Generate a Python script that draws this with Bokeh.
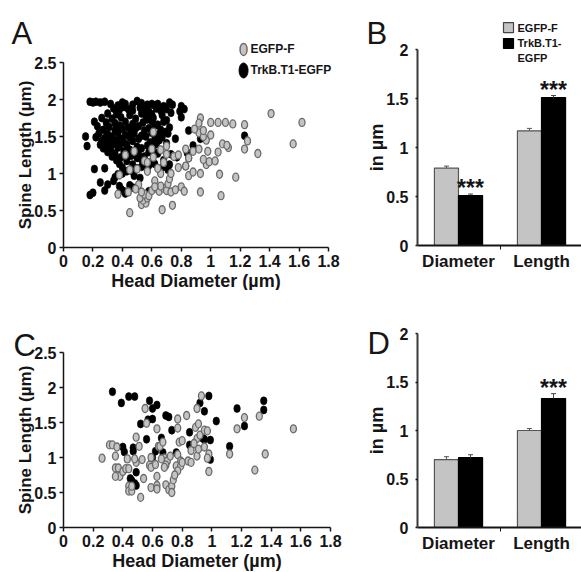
import numpy as np
from bokeh.plotting import figure
from bokeh.models import Range1d, FixedTicker, Label, Whisker, TeeHead, ColumnDataSource
from bokeh.layouts import column, row
from bokeh.embed import file_html
from bokeh.resources import INLINE
from bokeh.core.properties import value

# ---------------- data ----------------
x_ticks = [0, 0.2, 0.4, 0.6, 0.8, 1.0, 1.2, 1.4, 1.6, 1.8]
x_tick_labels = ["0", "0.2", "0.4", "0.6", "0.8", "1", "1.2", "1.4", "1.6", "1.8"]
y_ticks_scatter = [0, 0.5, 1.0, 1.5, 2.0, 2.5]
y_tick_labels_scatter = ["0", "0.5", "1", "1.5", "2", "2.5"]
y_ticks_bar = [0, 0.5, 1.0, 1.5, 2.0]
y_tick_labels_bar = ["0", "0.5", "1", "1.5", "2"]

series_names = ["EGFP-F", "TrkB.T1-EGFP"]
categories = ["Diameter", "Length"]

# Panel A : TrkB.T1-EGFP (black)
A_trkb_x = [0.18, 0.20, 0.22, 0.25, 0.28, 0.32, 0.37, 0.40, 0.42, 0.47, 0.50, 0.53, 0.57, 0.60, 0.62, 0.64, 0.68, 0.72, 0.74, 0.80,
            0.34, 0.38, 0.41, 0.44, 0.47, 0.52, 0.55, 0.58, 0.63, 0.66, 0.70, 0.79, 0.82,
            0.30, 0.36, 0.45, 0.53, 0.56, 0.60, 0.67, 0.73,
            0.26, 0.33, 0.39, 0.49, 0.57, 0.61, 0.70, 0.80,
            0.21, 0.29, 0.35, 0.42, 0.47, 0.54, 0.60, 0.64, 0.68,
            0.23, 0.31, 0.38, 0.44, 0.51, 0.58, 0.62, 0.72,
            0.27, 0.35, 0.40, 0.46, 0.49, 0.55, 0.66, 0.69,
            0.24, 0.30, 0.37, 0.42, 0.48, 0.53, 0.60, 0.64, 0.71, 0.85,
            0.15, 0.22, 0.28, 0.33, 0.39, 0.45, 0.51, 0.56, 0.62, 0.67, 0.76, 0.93, 1.23,
            0.26, 0.31, 0.36, 0.41, 0.47, 0.59, 0.65, 0.70,
            0.25, 0.29, 0.34, 0.38, 0.43, 0.50, 0.57, 0.63, 0.88,
            0.16, 0.27, 0.32, 0.37, 0.45, 0.53, 0.61,
            0.30, 0.35, 0.41, 0.48, 0.51, 0.58, 0.64, 0.73, 0.84,
            0.33, 0.39, 0.46, 0.50, 0.55, 0.77,
            0.36, 0.43, 0.53, 0.60, 0.68, 0.85,
            0.38, 0.47, 0.55, 0.58, 0.62, 0.72,
            0.40, 0.50, 0.53, 0.57, 0.67, 0.83,
            0.21, 0.28, 0.43, 0.46, 0.71,
            0.37, 0.40, 0.48,
            0.35, 0.52,
            0.25, 0.34,
            0.30, 0.38, 0.45,
            0.39, 0.47,
            0.20, 0.28, 0.41, 0.58,
            0.18, 0.42]
A_trkb_y = [1.97, 1.96, 1.97, 1.96, 1.97, 1.94, 1.92, 1.96, 1.94, 1.93, 1.98, 1.95, 1.93, 1.94, 1.92, 1.94, 1.91, 1.96, 1.93, 1.91,
            1.88, 1.86, 1.90, 1.87, 1.85, 1.89, 1.86, 1.84, 1.88, 1.85, 1.87, 1.84, 1.87,
            1.81, 1.80, 1.79, 1.81, 1.78, 1.80, 1.79, 1.82,
            1.75, 1.74, 1.76, 1.74, 1.73, 1.75, 1.72, 1.76,
            1.70, 1.69, 1.68, 1.70, 1.67, 1.69, 1.71, 1.66, 1.70,
            1.64, 1.63, 1.65, 1.62, 1.64, 1.61, 1.65, 1.62,
            1.59, 1.58, 1.60, 1.57, 1.61, 1.58, 1.59, 1.56,
            1.54, 1.53, 1.55, 1.52, 1.54, 1.51, 1.55, 1.52, 1.54, 1.58,
            1.50, 1.49, 1.48, 1.50, 1.47, 1.49, 1.47, 1.50, 1.46, 1.49, 1.47, 1.47, 1.51,
            1.44, 1.43, 1.45, 1.42, 1.44, 1.42, 1.45, 1.41,
            1.39, 1.38, 1.40, 1.37, 1.39, 1.36, 1.38, 1.40, 1.38,
            1.37, 1.34, 1.33, 1.35, 1.32, 1.34, 1.31,
            1.29, 1.27, 1.30, 1.28, 1.26, 1.29, 1.27, 1.26, 1.28,
            1.23, 1.22, 1.24, 1.21, 1.23, 1.22,
            1.18, 1.17, 1.19, 1.16, 1.18, 1.21,
            1.13, 1.12, 1.14, 1.11, 1.13, 1.12,
            1.08, 1.07, 1.09, 1.06, 1.08, 1.10,
            1.06, 1.07, 1.03, 1.04, 1.05,
            0.99, 1.00, 0.97,
            0.95, 0.94,
            0.88, 0.90,
            0.85, 0.83, 0.84,
            0.79, 0.81,
            0.74, 0.77, 0.76, 0.76,
            0.71, 0.73]

# Panel A : EGFP-F (gray)
A_egfp_x = [0.45, 0.67, 0.74,
            0.53, 0.56, 0.54, 0.57, 0.52, 0.55, 0.53, 0.58,
            0.37, 0.44, 0.60, 0.63, 0.65, 0.68, 0.70, 0.73, 0.71, 0.66, 0.80, 0.82, 0.93, 1.07,
            0.51, 0.62, 0.72, 0.85, 0.88, 0.93, 1.06, 1.17, 0.66, 0.73, 0.57, 0.50, 0.64,
            0.78, 0.83, 0.97, 0.99, 1.03, 0.95, 0.85, 0.75, 0.70, 0.61, 0.68, 0.55,
            0.88, 0.92, 0.98, 1.05, 1.12, 1.23, 1.32, 1.08, 1.11, 1.25, 1.56, 0.97, 1.00, 0.92, 0.95,
            0.66, 0.60, 0.70, 0.78, 0.83, 0.61,
            0.93, 0.92, 1.00, 1.05, 1.10, 1.15, 1.23, 1.41, 1.62, 0.89, 0.95,
            0.48, 0.42, 0.45, 0.38, 0.57, 0.62, 0.76, 0.49]
A_egfp_y = [0.47, 0.51, 0.57,
            0.58, 0.60, 0.64, 0.67, 0.67, 0.72, 0.75, 0.70,
            0.72, 0.75, 0.77, 0.80, 0.76, 0.80, 0.77, 0.75, 0.86, 0.83, 0.82, 0.76, 0.75, 0.70,
            0.85, 0.90, 0.93, 0.97, 1.02, 1.00, 0.99, 0.95, 1.00, 1.00, 1.03, 1.06, 1.07,
            1.08, 1.10, 1.12, 1.16, 1.17, 1.19, 1.21, 1.23, 1.26, 1.22, 1.15, 1.17,
            1.30, 1.33, 1.30, 1.29, 1.35, 1.33, 1.27, 1.40, 1.38, 1.44, 1.40, 1.45, 1.52, 1.55, 1.50,
            1.32, 1.33, 1.37, 1.25, 1.33, 1.56,
            1.75, 1.68, 1.69, 1.69, 1.69, 1.67, 1.66, 1.81, 1.69, 1.60, 1.58,
            1.30, 1.25, 1.05, 0.98, 1.15, 0.82, 0.78, 0.79]

# Panel C : EGFP-F (gray)
C_egfp_x = [0.26, 0.31, 0.33, 0.35, 0.36,
            0.35, 0.37, 0.36, 0.38, 0.35, 0.40,
            0.42, 0.44, 0.43, 0.44, 0.44, 0.46, 0.46,
            0.49, 0.49, 0.48, 0.52, 0.54, 0.53, 0.51,
            0.55, 0.59, 0.58, 0.59, 0.59, 0.56,
            0.63, 0.63, 0.63, 0.63, 0.64, 0.65, 0.67,
            0.68, 0.70, 0.69, 0.68, 0.69, 0.71, 0.73, 0.74, 0.73, 0.72, 0.66, 0.62,
            0.77, 0.77, 0.78, 0.80, 0.77, 0.79, 0.76, 0.79, 0.77, 0.75, 0.80,
            0.83, 0.84, 0.86, 0.86, 0.89, 0.90, 0.92, 0.90, 0.91, 0.88,
            0.93, 0.95, 0.97, 0.95, 0.98, 0.98, 0.97, 0.90, 0.91,
            1.12, 1.17, 1.22, 1.29, 1.32, 1.36, 1.55]
C_egfp_y = [0.99, 1.18, 1.18, 1.02, 1.15,
            0.85, 0.85, 0.74, 0.73, 0.73, 0.80,
            0.84, 0.84, 0.98, 0.59, 0.52, 0.52, 0.59,
            1.29, 0.93, 0.98, 0.43, 0.70, 0.97, 1.16,
            1.70, 1.00, 0.89, 0.86, 0.57, 1.49,
            1.41, 0.60, 0.55, 0.73, 1.16, 1.16, 1.22,
            0.99, 0.95, 0.89, 0.86, 0.61, 0.54, 0.59, 0.68, 0.50, 1.02, 0.98, 0.90,
            1.55, 1.42, 1.22, 1.24, 1.04, 0.95, 0.88, 0.88, 0.81, 0.75, 0.93,
            1.60, 0.95, 0.93, 1.10, 1.43, 1.27, 1.32, 1.02, 1.12, 1.20,
            1.88, 1.39, 1.38, 1.15, 1.05, 0.80, 0.99, 1.70, 1.48,
            1.05, 1.41, 1.57, 0.82, 1.59, 1.05, 1.41]

# Panel C : TrkB.T1-EGFP (black)
C_trkb_x = [0.33, 0.39, 0.44, 0.48, 0.58, 0.60, 0.63, 0.57, 0.60, 0.52,
            0.69, 0.71, 0.73, 0.56, 0.66,
            0.40, 0.41, 0.47, 0.47, 0.49,
            0.45, 0.46, 0.48, 0.49,
            0.60, 0.62, 0.67, 0.76, 0.85, 0.85, 0.86,
            0.92, 0.95, 0.98, 0.94, 0.95, 0.99, 0.99, 1.03,
            1.12, 1.17, 1.22, 1.35, 1.35]
C_trkb_y = [1.94, 1.78, 1.87, 1.87, 1.81, 1.70, 1.75, 1.54, 1.55, 1.48,
            1.60, 1.58, 1.39, 1.26, 1.28,
            1.15, 1.08, 1.14, 1.09, 0.79,
            0.70, 0.67, 0.63, 0.60,
            1.00, 1.09, 1.07, 1.07, 1.36, 1.18, 1.16,
            1.78, 1.66, 1.88, 1.27, 1.26, 1.25, 0.97, 1.52,
            1.16, 1.70, 1.45, 1.81, 1.68]

# Panel B : means and SEM (µm)
B_egfp = [0.79, 1.17]
B_egfp_err = [0.02, 0.025]
B_trkb = [0.51, 1.51]
B_trkb_err = [0.015, 0.02]
B_sig = ["***", "***"]

# Panel D : means and SEM (µm)
D_egfp = [0.70, 1.00]
D_egfp_err = [0.03, 0.02]
D_trkb = [0.72, 1.33]
D_trkb_err = [0.03, 0.05]
D_sig = ["", "***"]

# ---------------- style ----------------
SANS = "Liberation Sans"
INK = "#151515"
GRAY_FILL = "#c4c4c4"
GRAY_LINE = "#6a6a6a"


def new_fig(width, height, x_range, y_range):
    p = figure(width=width, height=height, x_range=Range1d(*x_range), y_range=Range1d(*y_range),
               min_border=0, min_border_left=0, min_border_right=0, min_border_top=0,
               min_border_bottom=0, output_backend="svg", toolbar_location=None)
    p.outline_line_color = None
    p.xgrid.visible = False
    p.ygrid.visible = False
    p.background_fill_color = "white"
    p.border_fill_color = "white"
    for ax in (p.xaxis[0], p.yaxis[0]):
        ax.axis_line_color = INK
        ax.axis_line_width = 1.5
        ax.major_tick_line_color = INK
        ax.major_tick_line_width = 1.5
        ax.major_tick_in = 0
        ax.major_tick_out = 4
        ax.minor_tick_line_color = None
        ax.major_label_text_font = SANS
        ax.major_label_text_font_style = "bold"
        ax.major_label_text_font_size = "16px"
        ax.major_label_text_color = INK
        ax.axis_label_text_font = SANS
        ax.axis_label_text_font_style = "bold"
        ax.axis_label_text_font_size = "17px"
        ax.axis_label_text_color = INK
    return p


def scatter_panel(letter, gx, gy, bx, by, width, height, x0_px, ppu_x, y0_px, ppu_y,
                  letter_px, legend=None):
    # x0_px / y0_px: pixel position (inside the figure) of data 0
    xr = (-x0_px / ppu_x, (width - x0_px) / ppu_x)
    yr = (-(height - y0_px) / ppu_y, y0_px / ppu_y)
    p = new_fig(width, height, xr, yr)
    p.xaxis.fixed_location = 0
    p.yaxis.fixed_location = 0
    p.xaxis.bounds = (0, 1.8)
    p.yaxis.bounds = (0, 2.5)
    p.xaxis.ticker = FixedTicker(ticks=x_ticks)
    p.xaxis.major_label_overrides = dict(zip(x_ticks, x_tick_labels))
    p.yaxis.ticker = FixedTicker(ticks=y_ticks_scatter)
    p.yaxis.major_label_overrides = dict(zip(y_ticks_scatter, y_tick_labels_scatter))
    p.xaxis.axis_label = "Head Diameter (µm)"
    p.yaxis.axis_label = "Spine Length (µm)"
    p.xaxis.axis_label_text_font_size = "18px"
    p.xaxis.major_label_standoff = 3
    p.xaxis.axis_label_standoff = 1
    p.yaxis.major_label_standoff = 3
    p.yaxis.axis_label_standoff = -4

    p.ellipse(x=bx, y=by, width=6.5, height=8, width_units="screen", height_units="screen",
              fill_color="black", line_color="black", line_width=0.6)
    p.ellipse(x=gx, y=gy, width=6, height=8, width_units="screen", height_units="screen",
              fill_color=GRAY_FILL, line_color=GRAY_LINE, line_width=1.3)

    lx = xr[0] + letter_px[0] / ppu_x
    ly = (y0_px - letter_px[1]) / ppu_y
    p.add_layout(Label(x=lx, y=ly, text=letter, text_font=SANS, text_font_size="31px",
                       text_color=INK, text_baseline="alphabetic"))

    if legend is not None:
        lgx, lgy_g, lgy_b, tx = legend
        p.ellipse(x=[lgx], y=[lgy_g], width=7, height=12, width_units="screen", height_units="screen",
                  fill_color=GRAY_FILL, line_color=GRAY_LINE, line_width=1.5)
        p.ellipse(x=[lgx], y=[lgy_b], width=9, height=15, width_units="screen", height_units="screen",
                  fill_color="black", line_color="black")
        p.text(x=[tx, tx], y=[lgy_g, lgy_b], text=series_names,
               text_font=value(SANS), text_font_style="bold", text_font_size=value("12px"),
               text_baseline="middle", text_align="left", text_color=INK)
    return p


def bar_panel(letter, egfp, egfp_err, trkb, trkb_err, sig, width, height, y0_px, ppu_y,
              letter_px, legend=False):
    x0_px = 98.0       # pixel of first category centre
    ppu_x = 83.0       # pixels per category
    axis_px = 57.0     # pixel of the value axis
    xr = (-x0_px / ppu_x, (width - x0_px) / ppu_x)
    yr = (-(height - y0_px) / ppu_y, y0_px / ppu_y)
    p = new_fig(width, height, xr, yr)
    x_axis_at = (axis_px - x0_px) / ppu_x
    p.yaxis.fixed_location = x_axis_at
    p.xaxis.fixed_location = 0
    p.xaxis.bounds = (x_axis_at, xr[1])
    p.yaxis.bounds = (0, 2)

    xs = np.arange(len(categories), dtype=float)
    off = 0.145
    bw = 0.29
    src_g = ColumnDataSource(dict(x=xs - off, top=egfp, up=np.array(egfp) + np.array(egfp_err)))
    src_b = ColumnDataSource(dict(x=xs + off, top=trkb, up=np.array(trkb) + np.array(trkb_err), sig=sig))
    p.vbar(x="x", top="top", bottom=0, width=bw, source=src_g,
           fill_color=GRAY_FILL, line_color="#555555", line_width=1.2)
    p.vbar(x="x", top="top", bottom=0, width=bw, source=src_b,
           fill_color="black", line_color="black", line_width=1.2)
    p.add_layout(Whisker(source=src_g, base="x", lower="top", upper="up", dimension="height",
                         line_color="#555555", line_width=1,
                         upper_head=TeeHead(size=5, line_color="#555555", line_width=1),
                         lower_head=None, level="overlay"))
    p.add_layout(Whisker(source=src_b, base="x", lower="top", upper="up", dimension="height",
                         line_color="#444444", line_width=1,
                         upper_head=TeeHead(size=5, line_color="#444444", line_width=1),
                         lower_head=None, level="overlay"))
    p.text(x="x", y="up", text="sig", source=src_b, text_font=value(SANS),
           text_font_style="bold", text_font_size=value("23px"), text_align="center",
           text_baseline="alphabetic", text_color=INK, y_offset=-6)

    p.yaxis.ticker = FixedTicker(ticks=y_ticks_bar)
    p.yaxis.major_label_overrides = dict(zip(y_ticks_bar, y_tick_labels_bar))
    p.yaxis.axis_label = "in µm"
    p.yaxis.axis_label_text_font_size = "18px"
    p.yaxis.major_tick_out = 2
    p.yaxis.major_label_standoff = 7
    p.yaxis.axis_label_standoff = -4
    p.yaxis.axis_line_color = "#3a3a3a"
    p.yaxis.axis_line_width = 2

    p.xaxis.ticker = FixedTicker(ticks=list(xs), minor_ticks=[0.5])
    p.xaxis.major_label_overrides = {float(i): c for i, c in enumerate(categories)}
    p.xaxis.major_tick_out = 0
    p.xaxis.minor_tick_line_color = INK
    p.xaxis.minor_tick_out = 4
    p.xaxis.minor_tick_in = 0
    p.xaxis.major_label_text_font = SANS
    p.xaxis.major_label_text_font_size = "17px"
    p.xaxis.major_label_standoff = 2
    p.xaxis.axis_line_width = 1.8

    lx = xr[0] + letter_px[0] / ppu_x
    ly = (y0_px - letter_px[1]) / ppu_y
    p.add_layout(Label(x=lx, y=ly, text=letter, text_font=SANS, text_font_size="31px",
                       text_color=INK, text_baseline="alphabetic"))
    if legend:
        lgx = (148 - x0_px) / ppu_x
        tx = (157 - x0_px) / ppu_x
        p.rect(x=[lgx, lgx], y=[2.224, 2.061], width=10, height=10,
               width_units="screen", height_units="screen",
               fill_color=[GRAY_FILL, "black"], line_color=["#444444", "black"], line_width=1.2)
        p.text(x=[tx, tx, tx], y=[2.224, 2.071, 1.918],
               text=["EGFP-F", "TrkB.T1-", "EGFP"],
               text_font=value(SANS), text_font_style="bold", text_font_size=value("11px"),
               text_baseline="middle", text_align="left", text_color=INK)
    return p


pA = scatter_panel("A", A_egfp_x, A_egfp_y, A_trkb_x, A_trkb_y, 360, 290,
                   63, 265 / 1.8, 247, 74, (11, 33), legend=(1.223, 2.676, 2.392, 1.27))
pB = bar_panel("B", B_egfp, B_egfp_err, B_trkb, B_trkb_err, B_sig, 221, 290,
               245, 98, (6, 33), legend=True)
pC = scatter_panel("C", C_egfp_x, C_egfp_y, C_trkb_x, C_trkb_y, 360, 282,
                   63, 267 / 1.8, 237, 70, (13, 55))
pD = bar_panel("D", D_egfp, D_egfp_err, D_trkb, D_trkb_err, D_sig, 221, 282,
               237, 97, (7, 53))

layout = column(row(pA, pB), row(pC, pD))
open("out.html", "w").write(file_html(layout, INLINE))
